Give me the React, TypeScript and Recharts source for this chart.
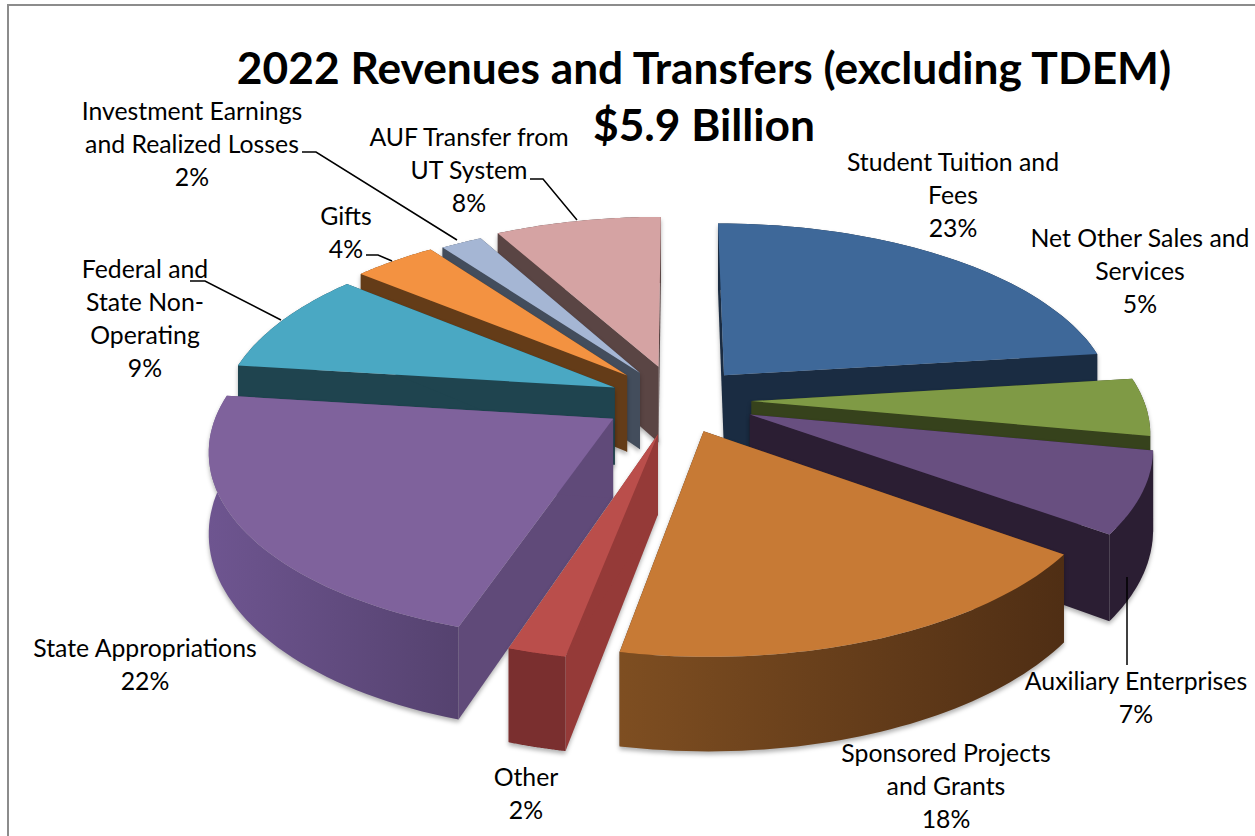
import { PieChart, Pie } from "recharts";

const categories = [
  "Student Tuition and Fees",
  "Net Other Sales and Services",
  "Auxiliary Enterprises",
  "Sponsored Projects and Grants",
  "Other",
  "State Appropriations",
  "Federal and State Non-Operating",
  "Gifts",
  "Investment Earnings and Realized Losses",
  "AUF Transfer from UT System",
];
const shares = [23, 5, 7, 18, 2, 22, 9, 4, 2, 8];
const labelLines = [
  ["Student Tuition and", "Fees"],
  ["Net Other Sales and", "Services"],
  ["Auxiliary Enterprises"],
  ["Sponsored Projects", "and Grants"],
  ["Other"],
  ["State Appropriations"],
  ["Federal and", "State Non-", "Operating"],
  ["Gifts"],
  ["Investment Earnings", "and Realized Losses"],
  ["AUF Transfer from", "UT System"],
];

// top face, outer wall (left, right), cut wall
const colors = [
  ["#3E6899", "#1A2C42", "#1A2C42", "#1A2C42"],
  ["#7F9A45", "#36421C", "#36421C", "#36421C"],
  ["#684F80", "#2B1E33", "#2B1E33", "#2B1E33"],
  ["#C77A35", "#7E4E21", "#4F2E14", "#4F2E14"],
  ["#BA4E4B", "#863433", "#7A2F2F", "#953A38"],
  ["#7F629C", "#6E5590", "#55426F", "#604A79"],
  ["#4AA8C3", "#1F444F", "#1F444F", "#1F444F"],
  ["#F39241", "#643C18", "#643C18", "#643C18"],
  ["#A5B6D4", "#434D5C", "#434D5C", "#434D5C"],
  ["#D5A3A3", "#5A4544", "#5A4544", "#5A4544"],
];
const explode = [0.185, 0.19, 0.2, 0.18, 0.19, 0.19, 0.175, 0.19, 0.18, 0.195];

// label anchor: centre x, first baseline
const labelPos = [
  [953, 171], [1140, 247], [1136, 690], [946, 762], [526, 786],
  [145, 657], [145, 278], [346, 225], [192, 120], [469, 146],
];
const leaders = [
  null, null,
  "1127,577 1127,665",
  null, null, null,
  "190,281 205,281 281,320",
  "366,255 378,255 392,261",
  "302,152 316,152 457,240",
  "530,179 543,179 577,220",
];

const rows = categories.map((name, i) => ({ name, value: shares[i], idx: i }));
const rowsReversed = [...rows].reverse();

const TILT = 0.463;
const PERSP = 0.15;
const DEPTH = 78;

function slice(props: any, show: (i: number) => boolean) {
  const { cx, cy, outerRadius, startAngle, endAngle, payload } = props;
  const idx = payload?.idx ?? props.idx;
  if (!show(idx)) return <g />;
  const a0 = ((90 - Math.max(startAngle, endAngle)) * Math.PI) / 180;
  const a1 = ((90 - Math.min(startAngle, endAngle)) * Math.PI) / 180;
  const mid = (a0 + a1) / 2;
  const e = explode[idx];
  const ou = e * Math.sin(mid);
  const ov = e * Math.cos(mid);
  const pt = (u: number, v: number, h: number) => {
    const s = 1 / (1 + PERSP * v);
    return [cx + outerRadius * u * s, cy - outerRadius * TILT * v * s + DEPTH * h * s];
  };
  const arc = (h: number) => {
    const out = [];
    for (let k = 0; k <= 48; k++) {
      const a = a0 + ((a1 - a0) * k) / 48;
      out.push(pt(ou + Math.sin(a), ov + Math.cos(a), h));
    }
    return out;
  };
  const poly = (list: number[][]) => "M" + list.map((p) => p[0].toFixed(1) + " " + p[1].toFixed(1)).join("L") + "Z";
  const apexT = pt(ou, ov, 0);
  const apexB = pt(ou, ov, 1);
  const top = arc(0);
  const bottom = arc(1);
  const [cTop, cL, cR, cCut] = colors[idx];
  const gid = "wall" + idx;
  return (
    <g style={{ filter: "drop-shadow(0px 3px 2px rgba(0,0,0,0.3))" }}>
      <defs>
        <linearGradient id={gid} x1="0" y1="0" x2="1" y2="0">
          <stop offset="0" stopColor={idx === 5 || idx === 3 ? cL : cR} />
          <stop offset="1" stopColor={cR} />
        </linearGradient>
      </defs>
      <path d={poly([apexT, top[0], bottom[0], apexB])} fill={cCut} />
      <path d={poly([apexT, top[48], bottom[48], apexB])} fill={cCut} />
      <path d={poly([...top, ...[...bottom].reverse()])} fill={`url(#${gid})`} />
      <path d={poly([apexT, ...top])} fill={cTop} />
    </g>
  );
}

const isLeftGroup = (i: number) => i >= 4;
const isRightGroup = (i: number) => i < 4;

function renderLabel(props: any) {
  const idx = props.payload?.idx ?? props.idx;
  const [x, y] = labelPos[idx];
  const lines = [...labelLines[idx], props.value + "%"];
  return (
    <g key={idx}>
      {leaders[idx] && <polyline points={leaders[idx] as string} fill="none" stroke="#000" strokeWidth={1.5} />}
      <text x={x} y={y} textAnchor="middle" fontFamily="Lato" fontSize={24.8} fill="#000">
        {lines.map((t, j) => (
          <tspan key={j} x={x} y={y + j * 33}>
            {t}
          </tspan>
        ))}
      </text>
    </g>
  );
}

export default function App() {
  return (
    <div style={{ position: "absolute", left: 0, top: 0, width: 1255, height: 836, overflow: "hidden", background: "#fff" }}>
      <div style={{ position: "absolute", left: 7, top: 4, width: 1260, height: 850, border: "2px solid #8C8C8C" }} />
      <PieChart width={1255} height={836} style={{ position: "absolute", left: 0, top: 0 }}>
        <text x={704} y={84} textAnchor="middle" fontFamily="Lato" fontWeight={700} fontSize={44.3} fill="#000">
          2022 Revenues and Transfers (excluding TDEM)
        </text>
        <text x={704} y={141} textAnchor="middle" fontFamily="Lato" fontWeight={700} fontSize={44.3} fill="#000">
          $5.9 Billion
        </text>
        <Pie
          data={rowsReversed}
          dataKey="value"
          nameKey="name"
          cx={672}
          cy={395}
          outerRadius={392}
          startAngle={-270}
          endAngle={90}
          stroke="none"
          isAnimationActive={false}
          shape={(p: any) => slice(p, isLeftGroup)}
        />
        <Pie
          data={rows}
          dataKey="value"
          nameKey="name"
          cx={672}
          cy={395}
          outerRadius={392}
          startAngle={90}
          endAngle={-270}
          stroke="none"
          isAnimationActive={false}
          labelLine={false}
          label={renderLabel}
          shape={(p: any) => slice(p, isRightGroup)}
        />
      </PieChart>
    </div>
  );
}
